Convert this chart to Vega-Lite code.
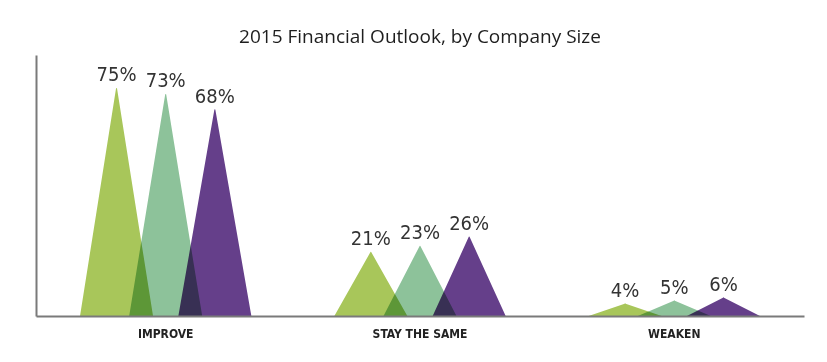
{
  "$schema": "https://vega.github.io/schema/vega-lite/v6.json",
  "width": 768,
  "height": 261,
  "autosize": {"type": "none"},
  "padding": {"left": 36, "top": 55, "right": 23, "bottom": 46},
  "title": {
    "text": "2015 Financial Outlook, by Company Size",
    "font": "Open Sans",
    "fontSize": 19,
    "fontWeight": "normal",
    "color": "#1e1e1e",
    "anchor": "middle",
    "offset": 8
  },
  "config": {
    "view": {"stroke": null},
    "axis": {"grid": false, "ticks": false, "title": null}
  },
  "data": {
    "values": [
      {"answer": "IMPROVE", "size": "Small", "pct": 0.75},
      {"answer": "IMPROVE", "size": "Midsize", "pct": 0.73},
      {"answer": "IMPROVE", "size": "Large", "pct": 0.68},
      {"answer": "STAY THE SAME", "size": "Small", "pct": 0.21},
      {"answer": "STAY THE SAME", "size": "Midsize", "pct": 0.23},
      {"answer": "STAY THE SAME", "size": "Large", "pct": 0.26},
      {"answer": "WEAKEN", "size": "Small", "pct": 0.04},
      {"answer": "WEAKEN", "size": "Midsize", "pct": 0.05},
      {"answer": "WEAKEN", "size": "Large", "pct": 0.06}
    ]
  },
  "layer": [
    {
      "transform": [
        {"bin": {"extent": [0, 1], "step": 1}, "field": "pct", "as": "b0"},
        {"fold": ["b0", "pct"], "as": ["end", "v"]}
      ],
      "mark": {"type": "trail", "blend": "multiply"},
      "encoding": {
        "x": {
          "field": "answer",
          "type": "nominal",
          "sort": ["IMPROVE", "STAY THE SAME", "WEAKEN"],
          "scale": {"paddingInner": 0.42, "paddingOuter": 0.22},
          "axis": {
            "zindex": 1,
            "labelAngle": 0,
            "labelFont": "DejaVu Sans Condensed",
            "labelFontSize": 12,
            "labelFontWeight": "bold",
            "labelColor": "#222222",
            "labelPadding": 12,
            "domainColor": "#7a7a7a",
            "domainWidth": 2
          }
        },
        "xOffset": {"field": "size", "type": "nominal", "sort": ["Small", "Midsize", "Large"]},
        "y": {
          "field": "v",
          "type": "quantitative",
          "scale": {"domain": [0, 0.86], "nice": false},
          "axis": {"zindex": 1, "labels": false, "domainColor": "#7a7a7a", "domainWidth": 2}
        },
        "size": {
          "field": "end",
          "type": "nominal",
          "scale": {"type": "ordinal", "domain": ["b0", "pct"], "range": [73, 0]},
          "legend": null
        },
        "color": {
          "field": "size",
          "type": "nominal",
          "scale": {"domain": ["Small", "Midsize", "Large"], "range": ["#a8c65a", "#8dc29a", "#653f8a"]},
          "legend": null
        },
        "detail": {"field": "answer"},
        "order": {"field": "v"}
      }
    },
    {
      "mark": {"type": "rect", "color": "white"},
      "encoding": {
        "y": {"datum": 0, "type": "quantitative"},
        "y2": {"datum": -0.16}
      }
    },
    {
      "mark": {
        "type": "text",
        "baseline": "bottom",
        "dy": -3,
        "font": "DejaVu Sans Condensed",
        "fontSize": 20,
        "color": "#333333"
      },
      "encoding": {
        "x": {"field": "answer", "type": "nominal", "sort": ["IMPROVE", "STAY THE SAME", "WEAKEN"]},
        "xOffset": {"field": "size", "type": "nominal", "sort": ["Small", "Midsize", "Large"]},
        "y": {"field": "pct", "type": "quantitative"},
        "text": {"field": "pct", "type": "quantitative", "format": ".0%"}
      }
    }
  ]
}
